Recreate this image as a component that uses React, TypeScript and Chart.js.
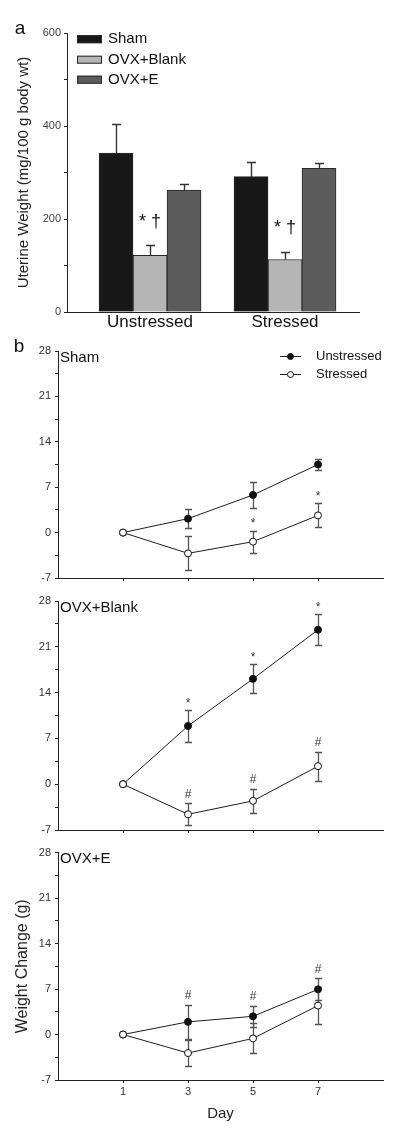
import React, { useEffect, useRef } from 'react';
import { Chart, registerables } from 'chart.js';

Chart.register(...registerables);

const FONT_FAMILY = '"Liberation Sans", Arial, Helvetica, sans-serif';
Chart.defaults.font.family = FONT_FAMILY;

// ---------- Panel a : uterine weight ----------
const groups = ['Unstressed', 'Stressed'];
const barSeries = ['Sham', 'OVX+Blank', 'OVX+E'];
const shamUterine = [342, 291];
const blankUterine = [122, 113];
const estrogenUterine = [262, 309];
const shamUterineErr = [62, 31];
const blankUterineErr = [22, 17];
const estrogenUterineErr = [14, 11];
const shamUterineMarks = ['', ''];
const blankUterineMarks = ['* †', '* †'];
const estrogenUterineMarks = ['', ''];
const barColors = ['#181818', '#b5b5b5', '#5c5c5c'];
const uterineLabeledTicks = [0, 200, 400, 600];

// ---------- Panel b : weight change ----------
const days = [1, 3, 5, 7];
const weightLabeledTicks = [-7, 0, 7, 14, 21, 28];
const lineSeries = ['Unstressed', 'Stressed'];

const shamUnstressed = [0, 2.15, 5.8, 10.5];
const shamUnstressedErr = [0, 1.5, 2.0, 0.8];
const shamUnstressedMarks = ['', '', '', ''];
const shamStressed = [0, -3.2, -1.4, 2.65];
const shamStressedErr = [0, 2.6, 1.7, 1.85];
const shamStressedMarks = ['', '', '*', '*'];

const blankUnstressed = [0, 8.9, 16.1, 23.6];
const blankUnstressedErr = [0, 2.4, 2.2, 2.4];
const blankUnstressedMarks = ['', '*', '*', '*'];
const blankStressed = [0, -4.6, -2.55, 2.75];
const blankStressedErr = [0, 1.7, 1.85, 2.2];
const blankStressedMarks = ['', '#', '#', '#'];

const estUnstressed = [0, 1.95, 2.8, 6.95];
const estUnstressedErr = [0, 2.6, 1.6, 1.7];
const estUnstressedMarks = ['', '#', '#', '#'];
const estStressed = [0, -2.85, -0.6, 4.45];
const estStressedErr = [0, 1.95, 2.3, 2.9];
const estStressedMarks = ['', '', '', ''];

const panelTitles = ['Sham', 'OVX+Blank', 'OVX+E'];

// ---------- layout (not data) ----------
const W = 400;
const layoutA = { top: 0, height: 340, areaLeft: 67, areaRight: 359, areaTop: 33, areaBottom: 312 };
const layoutB = [
  { top: 330, height: 260, areaTop: 21, areaBottom: 248 },
  { top: 590, height: 252, areaTop: 11, areaBottom: 240 },
  { top: 842, height: 294, areaTop: 10, areaBottom: 238 },
];
const B_LEFT = 58;
const B_RIGHT = 383;

function drawErrors(chart: any, capHalf: number, color: string, width: number, upOnly: boolean) {
  const ctx = chart.ctx;
  const ys = chart.scales.y;
  ctx.save();
  ctx.strokeStyle = color;
  ctx.lineWidth = width;
  chart.data.datasets.forEach((ds: any, di: number) => {
    const meta = chart.getDatasetMeta(di);
    const errs = ds.errors || [];
    meta.data.forEach((el: any, i: number) => {
      const e = errs[i];
      if (!e) return;
      const v = ds.data[i].y;
      const x = Math.round(el.x) + 0.5;
      const top = Math.round(ys.getPixelForValue(v + e)) + 0.5;
      const bot = Math.round(ys.getPixelForValue(upOnly ? v : v - e)) + 0.5;
      ctx.beginPath();
      ctx.moveTo(x, top);
      ctx.lineTo(x, bot);
      ctx.moveTo(x - capHalf, top);
      ctx.lineTo(x + capHalf, top);
      if (!upOnly) {
        ctx.moveTo(x - capHalf, bot);
        ctx.lineTo(x + capHalf, bot);
      }
      ctx.stroke();
    });
  });
  ctx.restore();
}

function drawMarks(chart: any, gap: number, font: string, color: string) {
  const ctx = chart.ctx;
  const ys = chart.scales.y;
  ctx.save();
  ctx.font = font;
  ctx.fillStyle = color;
  ctx.textAlign = 'center';
  ctx.textBaseline = 'alphabetic';
  chart.data.datasets.forEach((ds: any, di: number) => {
    const meta = chart.getDatasetMeta(di);
    const marks = ds.marks || [];
    const errs = ds.errors || [];
    meta.data.forEach((el: any, i: number) => {
      const m = marks[i];
      if (!m) return;
      const v = ds.data[i].y + (errs[i] || 0);
      const cy = ys.getPixelForValue(v) - gap;
      const tm = ctx.measureText(m);
      const base = cy + (tm.actualBoundingBoxAscent - tm.actualBoundingBoxDescent) / 2;
      ctx.fillText(m, el.x, base);
    });
  });
  ctx.restore();
}

function makeUterineChart(canvas: HTMLCanvasElement) {
  const values = [shamUterine, blankUterine, estrogenUterine];
  const errors = [shamUterineErr, blankUterineErr, estrogenUterineErr];
  const marks = [shamUterineMarks, blankUterineMarks, estrogenUterineMarks];
  const L = layoutA;
  return new Chart(canvas, {
    type: 'bar',
    data: {
      datasets: barSeries.map((name, s) => ({
        label: name,
        data: groups.map((_g, i) => ({ x: i + 1, y: values[s][i] })),
        errors: errors[s],
        marks: marks[s],
        backgroundColor: barColors[s],
        borderColor: '#2a2a2a',
        borderWidth: 1,
        barThickness: 34,
      })) as any,
    },
    options: {
      responsive: false,
      animation: false,
      events: [],
      layout: { padding: { left: 0, right: W - L.areaRight, top: L.areaTop, bottom: 0 } },
      plugins: { legend: { display: false }, tooltip: { enabled: false } },
      scales: {
        x: {
          type: 'linear',
          min: 0.385,
          max: 2.548,
          offset: false,
          afterBuildTicks: (s: any) => {
            s.ticks = groups.map((_g, i) => ({ value: i + 1 }));
          },
          afterFit: (s: any) => {
            s.height = L.height - L.areaBottom;
          },
          ticks: {
            autoSkip: false,
            maxRotation: 0,
            padding: 0,
            color: '#111',
            font: { size: 17 },
            callback: (v: any) => groups[Number(v) - 1] ?? '',
          },
          grid: { display: false, drawTicks: false, offset: false },
          border: { display: true, color: '#222', width: 1 },
        },
        y: {
          min: 0,
          max: 600,
          afterFit: (s: any) => {
            s.width = L.areaLeft;
          },
          ticks: {
            stepSize: 100,
            autoSkip: false,
            padding: 3,
            color: '#444',
            font: { size: 11 },
            callback: (v: any) => (uterineLabeledTicks.includes(Number(v)) ? String(v) : ''),
          },
          grid: { drawOnChartArea: false, drawTicks: true, tickLength: 3, color: '#222', tickColor: '#222' },
          border: { display: true, color: '#222', width: 1 },
          title: {
            display: true,
            text: 'Uterine Weight (mg/100 g body wt)',
            color: '#222',
            font: { size: 15 },
            padding: { top: 15, bottom: 0 },
          },
        },
      },
    } as any,
    plugins: [
      {
        id: 'uterineDecor',
        afterDatasetsDraw(chart: any) {
          drawErrors(chart, 4.5, '#333', 1.4, true);
          drawMarks(chart, 24, '18px ' + FONT_FAMILY, '#111');
        },
        afterDraw(chart: any) {
          const ctx = chart.ctx;
          const { left, top } = chart.chartArea;
          ctx.save();
          ctx.font = '19px ' + FONT_FAMILY;
          ctx.fillStyle = '#111';
          ctx.textAlign = 'center';
          ctx.textBaseline = 'middle';
          ctx.fillText('a', 20, 29);
          const rows = [6.2, 26.7, 46.7];
          ctx.font = '15px ' + FONT_FAMILY;
          ctx.textAlign = 'left';
          barSeries.forEach((name, s) => {
            const cy = top + rows[s];
            ctx.fillStyle = barColors[s];
            ctx.fillRect(left + 10, cy - 4, 25, 8);
            ctx.strokeStyle = '#2a2a2a';
            ctx.lineWidth = 1;
            ctx.strokeRect(left + 10.5, cy - 3.5, 24, 7);
            ctx.fillStyle = '#111';
            ctx.fillText(name, left + 41, cy);
          });
          ctx.restore();
        },
      },
    ],
  });
}

function makeWeightChart(canvas: HTMLCanvasElement, idx: number) {
  const L = layoutB[idx];
  const series = [
    [shamUnstressed, blankUnstressed, estUnstressed][idx],
    [shamStressed, blankStressed, estStressed][idx],
  ];
  const errs = [
    [shamUnstressedErr, blankUnstressedErr, estUnstressedErr][idx],
    [shamStressedErr, blankStressedErr, estStressedErr][idx],
  ];
  const marks = [
    [shamUnstressedMarks, blankUnstressedMarks, estUnstressedMarks][idx],
    [shamStressedMarks, blankStressedMarks, estStressedMarks][idx],
  ];
  const fills = ['#111111', '#ffffff'];
  const isLast = idx === layoutB.length - 1;
  return new Chart(canvas, {
    type: 'line',
    data: {
      datasets: lineSeries.map((name, s) => ({
        label: name,
        data: days.map((d, i) => ({ x: d, y: series[s][i] })),
        errors: errs[s],
        marks: marks[s],
        borderColor: '#1e1e1e',
        borderWidth: 1,
        pointRadius: 3.5,
        pointHoverRadius: 3.5,
        pointBackgroundColor: fills[s],
        pointBorderColor: '#111',
        pointBorderWidth: 1,
        tension: 0,
        order: s === 0 ? 1 : 0,
      })) as any,
    },
    options: {
      responsive: false,
      animation: false,
      events: [],
      layout: { padding: { left: 0, right: W - B_RIGHT, top: L.areaTop, bottom: 0 } },
      plugins: { legend: { display: false }, tooltip: { enabled: false } },
      scales: {
        x: {
          type: 'linear',
          min: -1,
          max: 9,
          afterBuildTicks: (s: any) => {
            s.ticks = days.map((d) => ({ value: d }));
          },
          afterFit: (s: any) => {
            s.height = L.height - L.areaBottom;
          },
          ticks: {
            display: isLast,
            autoSkip: false,
            maxRotation: 0,
            padding: 2,
            color: '#333',
            font: { size: 11 },
            callback: (v: any) => String(v),
          },
          grid: { drawOnChartArea: false, drawTicks: true, tickLength: 3, color: '#222', tickColor: '#222' },
          border: { display: true, color: '#222', width: 1 },
          title: {
            display: isLast,
            text: 'Day',
            color: '#222',
            font: { size: 15 },
            padding: { top: 0, bottom: 13 },
          },
        },
        y: {
          min: -7,
          max: 28,
          afterFit: (s: any) => {
            s.width = B_LEFT;
          },
          ticks: {
            stepSize: 3.5,
            autoSkip: false,
            padding: 4,
            color: '#333',
            font: { size: 11 },
            callback: (v: any) => (weightLabeledTicks.includes(Number(v)) ? String(v) : ''),
          },
          grid: { drawOnChartArea: false, drawTicks: true, tickLength: 3, color: '#222', tickColor: '#222' },
          border: { display: true, color: '#222', width: 1 },
          title: {
            display: isLast,
            text: 'Weight Change (g)',
            color: '#222',
            font: { size: 16 },
            padding: { top: 13, bottom: 0 },
          },
        },
      },
    } as any,
    plugins: [
      {
        id: 'weightDecor',
        beforeDatasetsDraw(chart: any) {
          drawErrors(chart, 3.5, '#555', 1.3, false);
        },
        afterDatasetsDraw(chart: any) {
          drawMarks(chart, 10, '12px ' + FONT_FAMILY, '#333');
        },
        afterDraw(chart: any) {
          const ctx = chart.ctx;
          const { left, top, right } = chart.chartArea;
          ctx.save();
          ctx.fillStyle = '#111';
          ctx.textBaseline = 'middle';
          ctx.textAlign = 'left';
          ctx.font = '15px ' + FONT_FAMILY;
          ctx.fillText(panelTitles[idx], left + 2, top + 6.5);
          if (idx === 0) {
            ctx.font = '19px ' + FONT_FAMILY;
            ctx.textAlign = 'center';
            ctx.fillText('b', 19, 17);
            const rowY = [top + 5, top + 23];
            lineSeries.forEach((name, s) => {
              const cy = Math.round(rowY[s]) + 0.5;
              ctx.strokeStyle = '#1e1e1e';
              ctx.lineWidth = 1;
              ctx.beginPath();
              ctx.moveTo(right - 103, cy);
              ctx.lineTo(right - 82, cy);
              ctx.stroke();
              ctx.beginPath();
              ctx.arc(right - 92.5, cy, 3, 0, Math.PI * 2);
              ctx.fillStyle = fills[s];
              ctx.fill();
              ctx.strokeStyle = '#111';
              ctx.stroke();
              ctx.fillStyle = '#111';
              ctx.textAlign = 'left';
              ctx.font = '13px ' + FONT_FAMILY;
              ctx.fillText(name, right - 67, cy);
            });
          }
          ctx.restore();
        },
      },
    ],
  });
}

export default function App() {
  const refA = useRef<HTMLCanvasElement>(null);
  const refB0 = useRef<HTMLCanvasElement>(null);
  const refB1 = useRef<HTMLCanvasElement>(null);
  const refB2 = useRef<HTMLCanvasElement>(null);

  useEffect(() => {
    const charts: Chart[] = [];
    if (refA.current) charts.push(makeUterineChart(refA.current));
    [refB0, refB1, refB2].forEach((r, i) => {
      if (r.current) charts.push(makeWeightChart(r.current, i));
    });
    return () => charts.forEach((c) => c.destroy());
  }, []);

  const canvasStyle = (top: number, height: number): React.CSSProperties => ({
    position: 'absolute',
    left: 0,
    top,
    width: W,
    height,
    display: 'block',
  });

  return (
    <div style={{ position: 'absolute', left: 0, top: 0, width: W, height: 1136, background: '#fff', overflow: 'hidden' }}>
      <canvas ref={refA} width={W} height={layoutA.height} style={canvasStyle(layoutA.top, layoutA.height)} />
      <canvas ref={refB0} width={W} height={layoutB[0].height} style={canvasStyle(layoutB[0].top, layoutB[0].height)} />
      <canvas ref={refB1} width={W} height={layoutB[1].height} style={canvasStyle(layoutB[1].top, layoutB[1].height)} />
      <canvas ref={refB2} width={W} height={layoutB[2].height} style={canvasStyle(layoutB[2].top, layoutB[2].height)} />
    </div>
  );
}
